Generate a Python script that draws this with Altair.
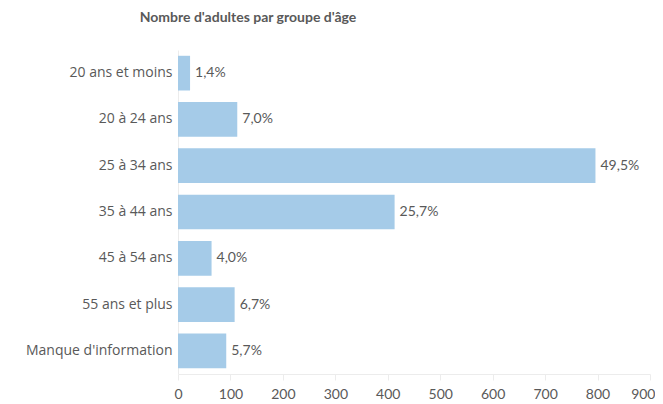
import altair as alt
import pandas as pd

categories = ["20 ans et moins", "20 à 24 ans", "25 à 34 ans", "35 à 44 ans",
              "45 à 54 ans", "55 ans et plus", "Manque d'information"]
counts = [23, 113, 796, 413, 64, 108, 92]
pct_labels = ["1,4%", "7,0%", "49,5%", "25,7%", "4,0%", "6,7%", "5,7%"]
x_ticks = [0, 100, 200, 300, 400, 500, 600, 700, 800, 900]

df = pd.DataFrame({"cat": categories, "n": counts, "pct": pct_labels})

FONT = "Lato"
GREY = "#595959"

base = alt.Chart(df).encode(
    y=alt.Y("cat:N", sort=categories, title=None,
            scale=alt.Scale(paddingInner=0.25, paddingOuter=0.125),
            axis=alt.Axis(labelFont="Open Sans", labelFontSize=14, labelColor=GREY,
                          ticks=False, labelPadding=6, domainColor="#ececec",
                          domainWidth=1, grid=False)),
)

bars = base.mark_bar(color="#a5cbe8").encode(
    x=alt.X("n:Q", title=None,
            scale=alt.Scale(domain=[0, 900], nice=False),
            axis=alt.Axis(values=x_ticks, labelFont=FONT, labelFontSize=14,
                          labelColor=GREY, tickSize=6, tickColor="#ececec",
                          domainColor="#ececec", labelPadding=7, grid=False,
                          labelFlush=False,
                          labelAlign=alt.expr("datum.value == 900 ? 'right' : 'center'"),
                          labelOffset=alt.expr("datum.value == 900 ? 5 : 0"))),
)

labels = base.mark_text(align="left", baseline="middle", dx=5,
                        font=FONT, fontSize=14, color=GREY).encode(
    x=alt.X("n:Q"),
    text="pct:N",
)

chart = (bars + labels).properties(
    width=472,
    height=324,
    title=alt.TitleParams("Nombre d'adultes par groupe d'âge", font=FONT,
                          fontSize=14, fontWeight="bold", color=GREY,
                          anchor="middle", frame="group", dx=-166, offset=25),
    autosize=alt.AutoSizeParams(type="none"),
    padding={"left": 170, "top": 42, "right": 5, "bottom": 30},
).configure_view(stroke=None)

chart.save("out.html", embed_options={"renderer": "svg", "actions": False})
